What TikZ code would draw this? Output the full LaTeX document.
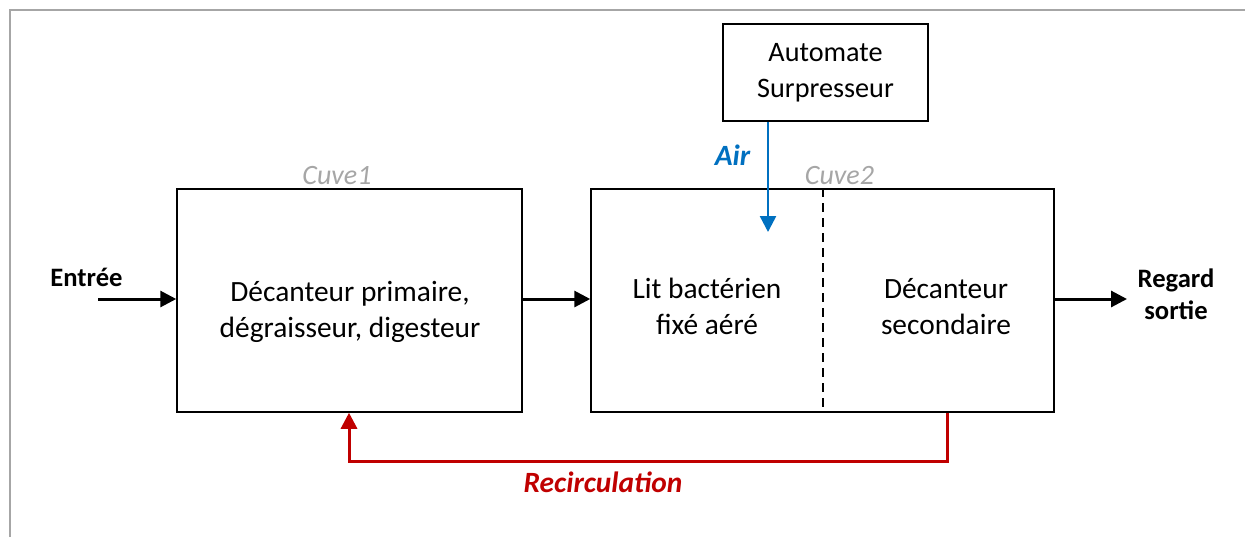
\documentclass[tikz,border=0pt]{standalone}
\usepackage{fontspec}
\setmainfont{Carlito}
\usetikzlibrary{arrows.meta,positioning}
\definecolor{airblue}{HTML}{0070C0}
\definecolor{recred}{HTML}{C00000}
\definecolor{cuvegray}{HTML}{A6A6A6}

\begin{document}
\begin{tikzpicture}
  [x=0.5pt,y=-0.5pt,
   box/.style={draw,line width=0.75pt,inner sep=0pt},
   flow/.style={line width=1.5pt,-{Triangle[length=8pt,width=8pt]}},
   txt/.style={align=center,font=\fontsize{14.7}{18}\selectfont},
   tag/.style={align=center,font=\fontsize{13.3}{16}\selectfont\bfseries},
   cuve/.style={anchor=base,text=cuvegray,font=\fontsize{14}{17}\selectfont\itshape},
   flowname/.style={anchor=base,font=\fontsize{14.7}{17}\selectfont\bfseries\itshape}]
  \useasboundingbox (0,0) rectangle (1245,537);
  \draw[cuvegray,line width=1pt] (10,537) -- (10,10) -- (1245,10);

  \node[box,minimum width=172.5pt,minimum height=111.5pt] (cuve1) at (349.5,300.5) {};
  \node[box,minimum width=231.5pt,minimum height=111.5pt] (cuve2) at (822.5,300.5) {};
  \node[box,txt,font=\fontsize{14.1}{18}\selectfont,minimum width=102.5pt,minimum height=48.5pt] (automate) at (825.5,72.5) {Automate\\Surpresseur};
  \draw[line width=1pt,dash pattern=on 4.5pt off 3pt] (cuve2.north) -- (cuve2.south);

  \node[txt] (primaire) at (350,312) {Décanteur primaire,\\dégraisseur, digesteur};
  \node[txt] (lit) at (707,306) {Lit bactérien\\fixé aéré};
  \node[txt] (secondaire) at (946,307) {Décanteur\\secondaire};
  \node[cuve] (c1) at (337,184) {Cuve1};
  \node[cuve] (c2) at (839.5,184) {Cuve2};
  \node[tag,anchor=base] (entree) at (86.5,286) {Entrée};
  \node[tag] (sortie) at (1176,294) {Regard\\sortie};
  \node[flowname,text=airblue] (air) at (732.5,165) {Air};
  \node[flowname,text=recred] (recirc) at (603,492) {Recirculation};

  \coordinate (in) at (98,299);
  \coordinate (out) at (1127,299);
  \coordinate (airend) at (768,232);
  \coordinate (recA) at (947,461);
  \coordinate (recB) at (349,461);

  \draw[flow] (in) -- (in -| cuve1.west);
  \draw[flow] (in -| cuve1.east) -- (in -| cuve2.west);
  \draw[flow] (in -| cuve2.east) -- (out);
  \draw[flow,airblue,line width=1.25pt] (airend |- automate.south) -- (airend);
  \draw[flow,recred] (recA |- cuve2.south) -- (recA) -- (recB) -- (recB |- cuve1.south);
\end{tikzpicture}
\end{document}
